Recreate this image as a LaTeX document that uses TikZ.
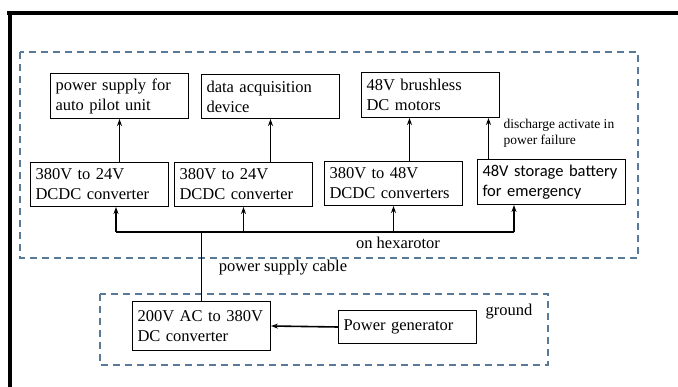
\documentclass[tikz,border=0pt]{standalone}
\usepackage{fontspec}
\setmainfont{Liberation Serif}
\newfontfamily\calfont{Carlito}
\usetikzlibrary{arrows.meta}
\definecolor{zonecol}{RGB}{88,122,152}

\tikzset{
  box/.style={draw, line width=1pt, anchor=north west, align=left,
    text width=128pt, inner xsep=5pt, inner ysep=3pt, minimum height=45pt,
    font=\fontsize{16.5}{20}\selectfont},
  tag/.style={font=\fontsize{16.5}{20}\selectfont},
  zone/.style={draw=zonecol, line width=1.5pt, dash pattern=on 7pt off 5pt},
  wire/.style={line width=1.6pt},
  >={Stealth[length=7pt,width=5pt]}
}

\begin{document}
\begin{tikzpicture}[x=1pt,y=-1pt]
\useasboundingbox (0,0) rectangle (678,387);

% frame:
\draw[line width=4pt] (7,13) -- (678,13);
\draw[line width=4pt] (9.5,11) -- (9.5,387);

\draw[zone] (20,52) rectangle (638,258);
\draw[zone] (100,294) rectangle (548,365);


% loads:
\node[box] (pilot) at (50,73) {power supply for\\auto pilot unit};
\node[box, minimum height=44pt] (daq) at (201,74) {data acquisition\\device};
\node[box] (motors) at (361,72) {48V brushless\\DC motors};

\node[anchor=west, align=left, font=\fontsize{13.5}{16}\selectfont] (note) at (500,133) {discharge activate in\\power failure};


% converters:
\node[box, minimum height=44pt] (conv1) at (30,162) {380V to 24V\\DCDC converter};
\node[box, minimum height=44pt] (conv2) at (174,162) {380V to 24V\\DCDC converter};
\node[box, minimum height=44pt] (conv3) at (324,161) {380V to 48V\\DCDC converters};
\node[box, text width=138pt, font=\calfont\fontsize{16.5}{20}\selectfont] (battery) at (477,159) {48V storage battery\\for emergency};

\draw[wire,->] (conv1.north -| pilot.south) -- (pilot.south);
\draw[wire,->] (conv2.north -| daq.south) -- (daq.south);
\draw[wire,->] ([xshift=-21pt]motors.south |- conv3.north) -- ([xshift=-21pt]motors.south);
\draw[wire,->] ([xshift=58pt]motors.south |- battery.north) -- ([xshift=58pt]motors.south);


% bus:
\coordinate (busL) at (116,232);
\coordinate (busR) at (514,232);
\draw[wire] (busL) -- (busR);

\draw[wire,->] (busL) -- (busL |- conv1.south);
\draw[wire,->] (busL -| conv2.south) -- (conv2.south);
\draw[wire,->] (busL -| conv3.south) -- (conv3.south);
\draw[wire,->] (busR) -- (busR |- battery.south);

\node[tag] (hexa) at (398,243) {on hexarotor};
\node[tag] (cable) at (283,268) {power supply cable};


% ground:
\node[box, minimum height=49pt] (dcac) at (132,301) {200V AC to 380V\\DC converter};
\node[box, minimum height=33pt] (gen) at (338,310) {Power generator};
\node[tag] (gnd) at (509,312) {ground};

\draw[wire] (busL -| dcac.north) -- (dcac.north);
\draw[wire,->] (gen.west) -- (dcac.east);

\end{tikzpicture}
\end{document}
